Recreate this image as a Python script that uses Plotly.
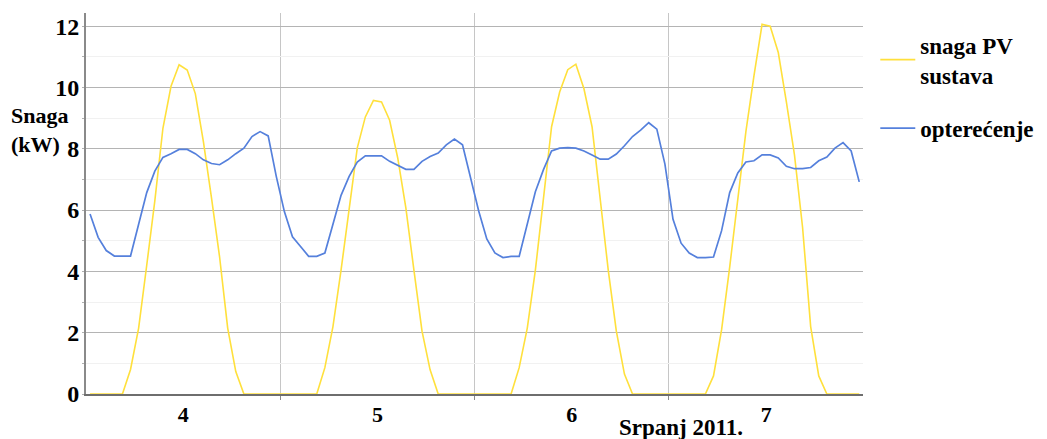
import pandas as pd
import plotly.graph_objects as go

# Hourly mean values (kW), one list per day, 00:30 ... 23:30
pv_jul4 = [0, 0, 0, 0, 0, 0.8, 2.15, 4.2, 6.3, 8.67, 10.04, 10.74,
           10.57, 9.8, 8.23, 6.4, 4.47, 2.15, 0.73, 0, 0, 0, 0, 0]
pv_jul5 = [0, 0, 0, 0, 0, 0.86, 2.2, 4.04, 6.08, 8.02, 9.04, 9.58,
           9.53, 8.93, 7.7, 6.08, 4.04, 2.05, 0.79, 0, 0, 0, 0, 0]
pv_jul6 = [0, 0, 0, 0, 0, 0.86, 2.15, 4.04, 6.3, 8.72, 9.85, 10.58,
           10.76, 9.96, 8.72, 6.46, 4.04, 2.05, 0.65, 0, 0, 0, 0, 0]
pv_jul7 = [0, 0, 0, 0, 0, 0.59, 2.1, 4.14, 6.4, 8.56, 10.39, 12.06,
           12.0, 11.14, 9.53, 7.8, 5.44, 2.2, 0.59, 0, 0, 0, 0, 0]

load_jul4 = [5.87, 5.11, 4.68, 4.5, 4.5, 4.5, 5.54, 6.57, 7.27, 7.72, 7.84, 7.98,
             7.98, 7.84, 7.64, 7.52, 7.48, 7.64, 7.84, 8.02, 8.4, 8.56, 8.42, 7.1]
load_jul5 = [5.95, 5.13, 4.81, 4.49, 4.49, 4.6, 5.54, 6.48, 7.1, 7.57, 7.77, 7.77,
             7.77, 7.59, 7.46, 7.33, 7.33, 7.59, 7.75, 7.86, 8.13, 8.32, 8.13, 7.0]
load_jul6 = [5.97, 5.06, 4.6, 4.45, 4.49, 4.49, 5.54, 6.6, 7.32, 7.93, 8.02, 8.04,
             8.02, 7.93, 7.8, 7.66, 7.66, 7.83, 8.1, 8.4, 8.61, 8.85, 8.64, 7.5]
load_jul7 = [5.7, 4.92, 4.6, 4.45, 4.45, 4.47, 5.33, 6.57, 7.21, 7.57, 7.61, 7.8,
             7.8, 7.7, 7.43, 7.35, 7.35, 7.39, 7.61, 7.73, 8.02, 8.2, 7.93, 6.92]

days = ["2011-07-04", "2011-07-05", "2011-07-06", "2011-07-07"]
day_labels = ["4", "5", "6", "7"]
y_ticks = [0, 2, 4, 6, 8, 10, 12]

pv = pv_jul4 + pv_jul5 + pv_jul6 + pv_jul7
load = load_jul4 + load_jul5 + load_jul6 + load_jul7
times = pd.date_range(days[0] + " 00:30", periods=len(pv), freq="h")

noons = [pd.Timestamp(d) + pd.Timedelta(hours=12) for d in days]
midnights = [pd.Timestamp(d) for d in days[1:]]

serif = "Liberation Serif, Times New Roman, serif"


def bold(size):
    return dict(family=serif, size=size, color="black", weight="bold")


fig = go.Figure()
fig.add_trace(go.Scatter(
    x=times, y=pv, mode="lines", name="<b>snaga PV<br>sustava</b>",
    line=dict(color="#FFE03C", width=1.6), legend="legend", showlegend=True,
))
fig.add_trace(go.Scatter(
    x=times, y=load, mode="lines", name="<b>opterećenje</b>",
    line=dict(color="#5580DC", width=1.7), legend="legend2", showlegend=True,
))

fig.update_layout(
    width=1047, height=439,
    margin=dict(l=86, r=177, t=13, b=41),
    paper_bgcolor="white", plot_bgcolor="white",
    font=dict(family=serif, color="black"),
    showlegend=True,
    legend=dict(
        xref="container", yref="container", x=0.836, y=0.864,
        xanchor="left", yanchor="middle", itemwidth=35,
        font=bold(23), bgcolor="rgba(0,0,0,0)",
    ),
    legend2=dict(
        xref="container", yref="container", x=0.836, y=0.708,
        xanchor="left", yanchor="middle", itemwidth=35,
        font=bold(23), bgcolor="rgba(0,0,0,0)",
    ),
    xaxis=dict(
        range=[pd.Timestamp(days[0]), pd.Timestamp(days[-1]) + pd.Timedelta(days=1)],
        tickmode="array", tickvals=noons, ticktext=day_labels,
        tickfont=bold(22),
        showgrid=False, ticks="", showline=True, linecolor="#6e6e6e", linewidth=2,
        zeroline=False,
        minor=dict(tickmode="array", tickvals=midnights, showgrid=True,
                   gridcolor="#c6c6c6", gridwidth=1.3, ticks="outside",
                   ticklen=4, tickcolor="#8a8a8a"),
    ),
    yaxis=dict(
        range=[0, 12.43], tickmode="array", tickvals=y_ticks,
        tickfont=bold(24),
        showgrid=True, gridcolor="#b4b4b4", gridwidth=1.2,
        ticks="", showline=True, linecolor="#8a8a8a", linewidth=2, zeroline=False,
        minor=dict(dtick=1, showgrid=True, gridcolor="#f1f1f1",
                   ticks="outside", ticklen=2, tickcolor="#b0b0b0"),
    ),
    annotations=[
        dict(text="<b>Snaga<br>(kW)</b>", xref="paper", yref="paper",
             x=-0.0995, y=0.694, xanchor="left", yanchor="middle",
             align="left", showarrow=False, font=bold(22)),
        dict(text="<b>Srpanj 2011.</b>", xref="paper", yref="paper",
             x=0.765, y=-0.087, xanchor="center", yanchor="middle",
             showarrow=False, font=bold(23)),
    ],
)

fig.write_html("out.html")
